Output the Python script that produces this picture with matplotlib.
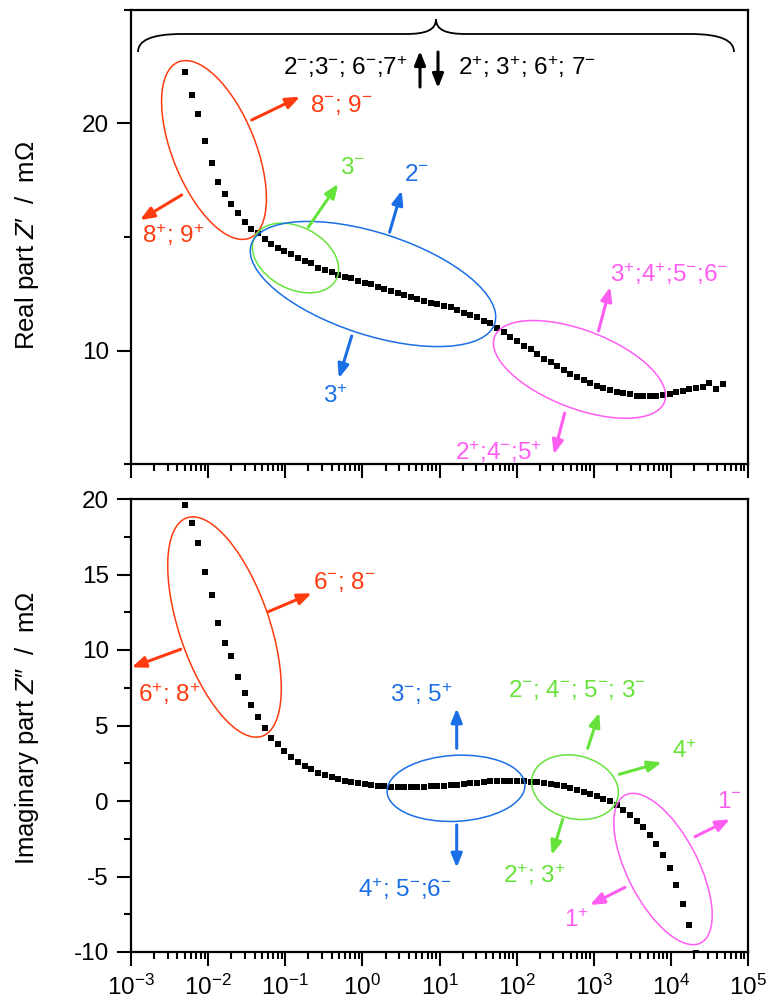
import numpy as np
import matplotlib
matplotlib.use('Agg')
import matplotlib.pyplot as plt
from matplotlib.patches import Ellipse, PathPatch
from matplotlib.path import Path
from matplotlib.ticker import LogLocator, MultipleLocator, NullFormatter

plt.rcParams['font.family'] = ['Liberation Sans', 'DejaVu Sans']
plt.rcParams['mathtext.fontset'] = 'custom'
plt.rcParams['mathtext.rm'] = 'Liberation Sans'
plt.rcParams['mathtext.it'] = 'Liberation Sans:italic'
plt.rcParams['axes.unicode_minus'] = False
plt.rcParams['font.size'] = 17.5

log_freq = [-2.30, -2.21, -2.13, -2.04, -1.95, -1.87, -1.78, -1.70, -1.61, -1.52,
            -1.44, -1.35, -1.26, -1.18, -1.09, -1.01, -0.92, -0.83, -0.75, -0.66,
            -0.58, -0.49, -0.40, -0.32, -0.23, -0.15, -0.06, 0.03, 0.11, 0.20,
            0.28, 0.37, 0.46, 0.54, 0.63, 0.71, 0.80, 0.89, 0.97, 1.06,
            1.15, 1.23, 1.32, 1.40, 1.49, 1.58, 1.66, 1.75, 1.83, 1.92,
            2.01, 2.09, 2.18, 2.26, 2.35, 2.44, 2.52, 2.61, 2.69, 2.78,
            2.87, 2.95, 3.04, 3.12, 3.21, 3.30, 3.38, 3.47, 3.56, 3.64,
            3.73, 3.81, 3.90, 3.99, 4.07, 4.16, 4.24, 4.33, 4.42, 4.50,
            4.59, 4.67]

# real part Z' (mOhm)
z_real = [22.27, 21.25, 20.40, 19.23, 18.24, 17.43, 16.89, 16.45, 16.07, 15.67,
          15.34, 15.16, 14.91, 14.68, 14.53, 14.40, 14.25, 14.06, 13.96, 13.84,
          13.65, 13.55, 13.44, 13.33, 13.25, 13.18, 13.08, 12.99, 12.92, 12.78,
          12.71, 12.64, 12.52, 12.45, 12.35, 12.28, 12.20, 12.11, 12.04, 11.96,
          11.91, 11.79, 11.67, 11.57, 11.46, 11.32, 11.20, 10.98, 10.81, 10.59,
          10.44, 10.22, 10.06, 9.85, 9.64, 9.51, 9.32, 9.15, 8.96, 8.83,
          8.68, 8.56, 8.44, 8.34, 8.27, 8.19, 8.12, 8.08, 8.00, 8.00,
          8.00, 8.00, 8.05, 8.09, 8.15, 8.22, 8.30, 8.34, 8.41, 8.59,
          8.30, 8.52]

# imaginary part Z'' (mOhm), fewer points (rest is off scale)
z_imag = [19.58, 18.38, 17.10, 15.18, 13.61, 11.80, 10.47, 9.59, 8.22, 7.16,
          6.36, 5.56, 4.81, 4.15, 3.77, 3.33, 2.93, 2.58, 2.33, 2.12,
          1.87, 1.72, 1.56, 1.45, 1.32, 1.23, 1.17, 1.10, 1.05, 1.01,
          0.97, 0.94, 0.94, 0.94, 0.94, 0.94, 0.94, 0.97, 0.99, 1.01,
          1.03, 1.08, 1.12, 1.17, 1.21, 1.25, 1.30, 1.32, 1.34, 1.34,
          1.34, 1.32, 1.27, 1.23, 1.19, 1.12, 1.05, 0.97, 0.86, 0.74,
          0.61, 0.48, 0.32, 0.15, -0.03, -0.27, -0.58, -0.94, -1.31, -1.75,
          -2.26, -2.86, -3.59, -4.47, -5.53, -6.79, -8.23, -10.05]

freq = 10 ** np.array(log_freq)

RED = '#ff3b0f'
GREEN = '#66e33a'
BLUE = '#1a6ee6'
PINK = '#ff5cf2'

fig = plt.figure(figsize=(7.69, 10.06), dpi=100)
ax1 = fig.add_axes([131/769, 1 - 464/1006, 617/769, 454/1006])
ax2 = fig.add_axes([131/769, 1 - 952/1006, 617/769, 453/1006])

ax1.plot(freq, z_real, 's', color='k', ms=3.7, mew=0)
ax2.plot(freq[:len(z_imag)], z_imag, 's', color='k', ms=3.7, mew=0)

for ax in (ax1, ax2):
    ax.set_xscale('log')
    ax.set_xlim(1e-3, 1e5)
    ax.xaxis.set_major_locator(LogLocator(base=10, numticks=20))
    ax.xaxis.set_minor_locator(LogLocator(base=10, subs=np.arange(2, 10), numticks=20))
    ax.xaxis.set_minor_formatter(NullFormatter())
    ax.tick_params(which='both', direction='out', width=1.5, top=False, right=False)
    ax.tick_params(which='major', length=10, pad=6)
    ax.tick_params(which='minor', length=5)
    for s in ax.spines.values():
        s.set_linewidth(1.6)

ax1.set_ylim(5, 25)
ax1.yaxis.set_major_locator(MultipleLocator(10))
ax1.yaxis.set_minor_locator(MultipleLocator(5))
ax1.tick_params(axis='x', labelbottom=False)

ax2.set_ylim(-10, 20)
ax2.yaxis.set_major_locator(MultipleLocator(5))
ax2.yaxis.set_minor_locator(MultipleLocator(2.5))

# overlay in pixel units for the hand-drawn annotations
ov = fig.add_axes([0, 0, 1, 1])
ov.set_xlim(0, 769)
ov.set_ylim(1006, 0)
ov.axis('off')

ov.text(27, 245, 'Real part $\\mathit{Z}$\u2032  /  m\u03a9', rotation=90,
        ha='center', va='center', fontsize=18.5)
ov.text(27, 728, 'Imaginary part $\\mathit{Z}$\u2033  /  m\u03a9', rotation=90,
        ha='center', va='center', fontsize=18.5)

# curly brace on top
verts = [(138, 52), (138, 41), (150, 34), (182, 34),
         (406, 34),
         (426, 34), (436, 30), (436, 19),
         (436, 30), (446, 34), (466, 34),
         (690, 34),
         (722, 34), (734, 41), (734, 52)]
codes = [Path.MOVETO, Path.CURVE4, Path.CURVE4, Path.CURVE4,
         Path.LINETO,
         Path.CURVE4, Path.CURVE4, Path.CURVE4,
         Path.CURVE4, Path.CURVE4, Path.CURVE4,
         Path.LINETO,
         Path.CURVE4, Path.CURVE4, Path.CURVE4]
ov.add_patch(PathPatch(Path(verts, codes), fill=False, lw=1.3, color='k'))

ellipses = [
    ((214, 150), 190, 83, 68, RED),
    ((295.5, 258), 92, 62, 28, GREEN),
    ((373, 284), 256, 102, 18, BLUE),
    ((579.5, 369.4), 182, 78, 21, PINK),
    ((224.5, 627), 231, 90, 71, RED),
    ((456, 788.3), 138, 66, -3, BLUE),
    ((575, 787.2), 88, 63, 14, GREEN),
    ((663, 869), 166, 71, 63, PINK),
]
for c, w, h, a, col in ellipses:
    ov.add_patch(Ellipse(c, w, h, angle=a, fill=False, ec=col, lw=1.1))

arrows = [
    ((251.7, 120), (300, 96.7), RED),
    ((181.7, 195), (140, 220), RED),
    ((308.4, 227), (338.2, 183.8), GREEN),
    ((389.6, 232.2), (401.7, 190.6), BLUE),
    ((351.7, 336), (338.9, 378.2), BLUE),
    ((598.5, 330.9), (610.3, 286.9), PINK),
    ((564.7, 413), (553.9, 454.3), PINK),
    ((420, 87), (420, 51), 'k'),
    ((438, 52), (438, 88), 'k'),
    ((268.3, 611.7), (311.7, 593.3), RED),
    ((180.7, 649.3), (131.7, 667.3), RED),
    ((456.7, 748.3), (456.7, 708.3), BLUE),
    ((456.7, 825), (456.7, 867.7), BLUE),
    ((587.7, 748.3), (599.3, 712.7), GREEN),
    ((619.3, 774.3), (661.7, 762.3), GREEN),
    ((562.7, 819.3), (551.7, 855), GREEN),
    ((695, 836.7), (730, 819.3), PINK),
    ((625, 887.3), (590, 905), PINK),
]
for tail, head, col in arrows:
    ov.annotate('', xy=head, xytext=tail,
                arrowprops=dict(arrowstyle='-|>,head_length=0.55,head_width=0.22',
                                color=col, lw=2.2, shrinkA=0, shrinkB=0,
                                mutation_scale=15))

labels = [
    ('2$^{-}$;3$^{-}$; 6$^{-}$;7$^{+}$', 283, 75, 'k'),
    ('2$^{+}$; 3$^{+}$; 6$^{+}$; 7$^{-}$', 458, 75, 'k'),
    ('8$^{-}$; 9$^{-}$', 310, 111.7, RED),
    ('8$^{+}$; 9$^{+}$', 141.7, 243.3, RED),
    ('3$^{-}$', 340, 173.5, GREEN),
    ('2$^{-}$', 404, 180.5, BLUE),
    ('3$^{+}$', 323, 403, BLUE),
    ('3$^{+}$;4$^{+}$;5$^{-}$;6$^{-}$', 610, 282, PINK),
    ('2$^{+}$;4$^{-}$;5$^{+}$', 455, 460, PINK),
    ('6$^{-}$; 8$^{-}$', 312.7, 589.3, RED),
    ('6$^{+}$; 8$^{+}$', 138.3, 701.7, RED),
    ('3$^{-}$; 5$^{+}$', 390, 702.3, BLUE),
    ('4$^{+}$; 5$^{-}$;6$^{-}$', 358, 896.7, BLUE),
    ('2$^{-}$; 4$^{-}$; 5$^{-}$; 3$^{-}$', 508.3, 696.7, GREEN),
    ('4$^{+}$', 671.7, 758.3, GREEN),
    ('2$^{+}$; 3$^{+}$', 502.7, 883.3, GREEN),
    ('1$^{-}$', 716.7, 808.3, PINK),
    ('1$^{+}$', 564, 927.3, PINK),
]
for txt, x, y, col in labels:
    ov.text(x, y, txt, color=col, ha='left', va='baseline', fontsize=17.5)

fig.savefig('out.png', dpi=100)
